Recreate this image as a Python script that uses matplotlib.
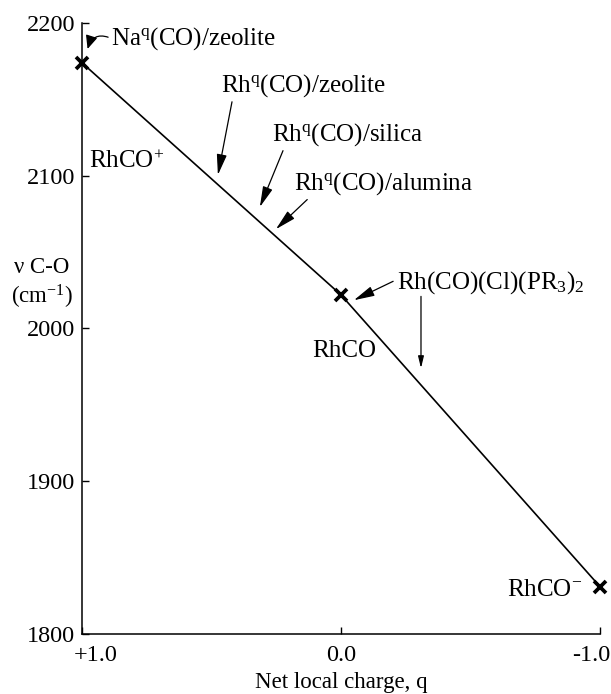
import matplotlib
matplotlib.use("Agg")
import matplotlib.pyplot as plt
from matplotlib.transforms import ScaledTranslation

# net local charge q and C-O stretching frequency
charge = [1.0, 0.0, -1.0]
nu_co = [2174, 2022, 1831]

yticks = [1800, 1900, 2000, 2100, 2200]
xticks = [1.0, 0.0, -1.0]
xticklabels = ["+1.0", "0.0", "-1.0"]


def main():
    plt.rcParams["font.family"] = ["Liberation Serif", "DejaVu Serif"]
    plt.rcParams["mathtext.fontset"] = "custom"
    plt.rcParams["mathtext.rm"] = "Liberation Serif"
    plt.rcParams["mathtext.it"] = "Liberation Serif:italic"

    fig = plt.figure(figsize=(6.11, 6.94), dpi=100)
    ax = fig.add_axes([0.134, 0.0865, 0.848, 0.8804])

    ax.plot(charge, nu_co, color="black", lw=1.2)
    ax.plot(charge, nu_co, linestyle="none", marker="x", color="black",
            markersize=9, markeredgewidth=2.7, clip_on=False)

    ax.set_xlim(1.0, -1.0)
    ax.set_ylim(1800, 2200)
    ax.set_xticks(xticks)
    ax.set_xticklabels(xticklabels)
    ax.set_yticks(yticks)
    ax.tick_params(direction="in", length=5, width=1, labelsize=17.5)
    ax.tick_params(axis="x", pad=8)
    ax.tick_params(axis="y", pad=5)
    for s in ["top", "right"]:
        ax.spines[s].set_visible(False)
    for s in ["left", "bottom"]:
        ax.spines[s].set_linewidth(1.1)

    # tick labels at the ends sit a bit inside, as in the original
    shifts = [0.14, 0.0, -0.09]
    for lab, dx in zip(ax.get_xticklabels(), shifts):
        lab.set_transform(lab.get_transform() + ScaledTranslation(dx, 0, fig.dpi_scale_trans))

    fig.text(0.558, 0.016, "Net local charge, q", fontsize=16.5, ha="center", va="center")
    fig.text(0.068, 0.615, "\u03bd C-O", fontsize=16.5, ha="center", va="center")
    fig.text(0.068, 0.572, "(cm$^{-1}$)", fontsize=16.5, ha="center", va="center")

    fs = 18
    arr = dict(arrowstyle="-|>,head_length=0.7,head_width=0.17", color="black",
               lw=0.9, shrinkA=0, shrinkB=0)

    ax.annotate("Na$^{\\rm q}$(CO)/zeolite", xy=(0.978, 2183), xytext=(0.888, 2190),
                fontsize=fs, ha="left", va="center",
                arrowprops=dict(arr, arrowstyle="-|>,head_length=0.45,head_width=0.2",
                                relpos=(0.0, 0.5), connectionstyle="arc3,rad=0.55"))
    ax.annotate("Rh$^{\\rm q}$(CO)/zeolite", xy=(0.475, 2100.5), xytext=(0.463, 2159),
                fontsize=fs, ha="left", va="center",
                arrowprops=dict(arr, relpos=(0.07, 0.0)))
    ax.annotate("Rh$^{\\rm q}$(CO)/silica", xy=(0.313, 2079.5), xytext=(0.266, 2127),
                fontsize=fs, ha="left", va="center",
                arrowprops=dict(arr, relpos=(0.08, 0.0)))
    ax.annotate("Rh$^{\\rm q}$(CO)/alumina", xy=(0.251, 2065), xytext=(0.181, 2095),
                fontsize=fs, ha="left", va="center",
                arrowprops=dict(arr, relpos=(0.09, 0.0)))
    ax.annotate("Rh(CO)(Cl)(PR$_3$)$_2$", xy=(-0.05, 2018.5), xytext=(-0.216, 2030),
                fontsize=fs, ha="left", va="center",
                arrowprops=dict(arr, relpos=(-0.02, 0.55)))
    ax.annotate("", xy=(-0.309, 1974), xytext=(-0.309, 2021), arrowprops=arr)

    ax.text(0.973, 2109, "RhCO$^{+}$", fontsize=fs, ha="left", va="center")
    ax.text(0.112, 1985, "RhCO", fontsize=fs, ha="left", va="center")
    ax.text(-0.64, 1829, "RhCO$^{-}$", fontsize=fs, ha="left", va="center")

    fig.savefig("out.png", dpi=100)


if __name__ == "__main__":
    main()
